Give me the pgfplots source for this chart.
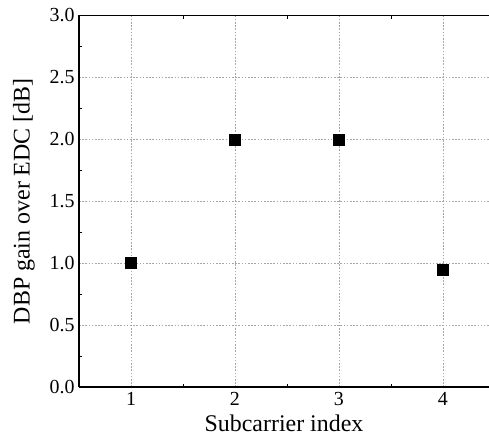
\documentclass[border=0pt]{standalone}
\usepackage{pgfplots}
\pgfplotsset{compat=1.18}
\usepackage{fontspec}
\setmainfont{Liberation Serif}
\begin{document}
\begin{tikzpicture}
\begin{axis}[
  scale only axis,
  width=410bp, height=371.5bp,
  xmin=0.5, xmax=4.443,
  ymin=0, ymax=3,
  separate axis lines,
  axis x line=box,
  axis y line=left,
  axis line style={-, line width=1.1pt, black},
  xtick={1,2,3,4},
  xticklabels={1,2,3,4},
  ytick={0,0.5,1,1.5,2,2.5,3},
  yticklabels={0.0,0.5,1.0,1.5,2.0,2.5,3.0},
  minor xtick={1.5,2.5,3.5},
  minor ytick={0.25,0.75,1.25,1.75,2.25,2.75},
  tick align=inside,
  major tick length=0pt,
  minor tick length=3bp,
  minor tick style={black, line width=0.5pt},
  grid=major,
  major grid style={gray!70, line width=0.5pt, dash pattern=on 1.6pt off 1.6pt},
  tick label style={font=\fontsize{20}{22}\selectfont},
  label style={font=\fontsize{24}{26}\selectfont},
  xlabel={Subcarrier index},
  ylabel={DBP gain over EDC [dB]},
  xticklabel style={yshift=-2bp},
  yticklabel style={xshift=-1bp},
  xlabel style={yshift=-2bp},
  ylabel style={yshift=8bp},
  clip=false,
]
\addplot[only marks, mark=square*, mark size=5.5bp, black] coordinates {
  (1,1.0) (2,2.0) (3,2.0) (4,0.95)
};
\end{axis}
\pgfresetboundingbox
\path ([shift={(-79bp,-53bp)}]current axis.south west) rectangle ([shift={(410bp,387bp)}]current axis.south west);
\end{tikzpicture}
\end{document}
